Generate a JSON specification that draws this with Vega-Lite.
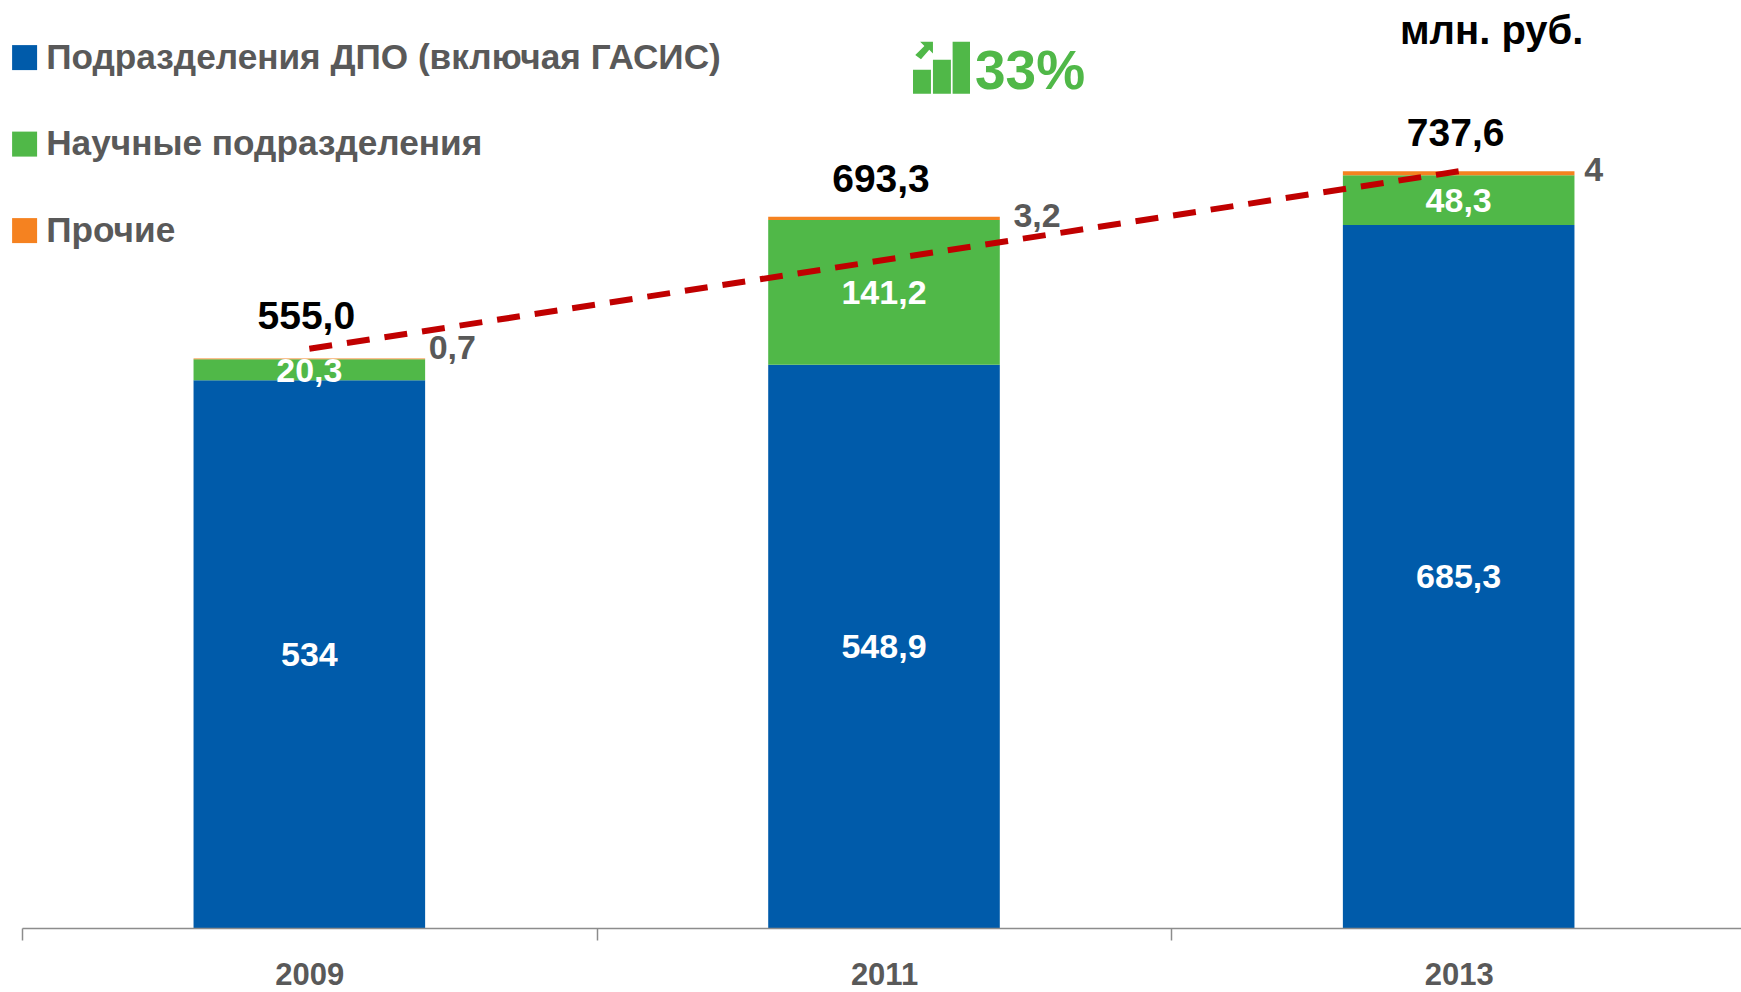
{
"$schema":"https://vega.github.io/schema/vega-lite/v6.json",
"width":1719,"height":928,
"autosize":{"type":"none"},
"padding":{"left":22,"top":0,"right":0,"bottom":64},
"background":"white",
"config":{"view":{"stroke":null},"text":{"font":"Liberation Sans","fontWeight":"bold"}},
"data":{"values":[
{"year":"2009","series":"Подразделения ДПО (включая ГАСИС)","rank":1,"value":534,"label":"534"},
{"year":"2009","series":"Научные подразделения","rank":2,"value":20.3,"label":"20,3"},
{"year":"2009","series":"Прочие","rank":3,"value":0.7,"label":"0,7"},
{"year":"2011","series":"Подразделения ДПО (включая ГАСИС)","rank":1,"value":548.9,"label":"548,9"},
{"year":"2011","series":"Научные подразделения","rank":2,"value":141.2,"label":"141,2"},
{"year":"2011","series":"Прочие","rank":3,"value":3.2,"label":"3,2"},
{"year":"2013","series":"Подразделения ДПО (включая ГАСИС)","rank":1,"value":685.3,"label":"685,3"},
{"year":"2013","series":"Научные подразделения","rank":2,"value":48.3,"label":"48,3"},
{"year":"2013","series":"Прочие","rank":3,"value":4,"label":"4"}
]},
"encoding":{
"x":{"field":"year","type":"nominal","sort":null,
"scale":{"domain":["2009","2011","2013"],"range":[0,1724],"paddingInner":0,"paddingOuter":0},
"axis":{"title":null,"labelAngle":0,"labelFont":"Liberation Sans","labelFontWeight":"bold","labelFontSize":31,"labelColor":"#595959","labelPadding":20,"tickBand":"extent","tickSize":12,"tickColor":"#8c8c8c","tickWidth":1.5,"domainColor":"#8c8c8c","domainWidth":1.5,"grid":false,"zindex":1}}
},
"layer":[
{"mark":{"type":"bar","width":{"band":0.403}},
"encoding":{
"y":{"field":"value","type":"quantitative","stack":"zero","scale":{"domain":[0,904.5],"nice":false,"zero":true},"axis":null},
"order":{"field":"rank","type":"ordinal"},
"color":{"field":"series","type":"nominal","sort":null,
"scale":{"domain":["Подразделения ДПО (включая ГАСИС)","Научные подразделения","Прочие"],"range":["#005BAA","#50B848","#F58220"]},
"legend":{"title":null,"orient":"none","legendX":-15,"legendY":40,"padding":0,"symbolType":"square","symbolSize":625,"symbolStrokeWidth":0,"labelFont":"Liberation Sans","labelFontWeight":"bold","labelFontSize":35.2,"labelColor":"#595959","labelLimit":1000,"labelOffset":4,"rowPadding":50.5}}
}},
{"transform":[
{"stack":"value","groupby":["year"],"sort":[{"field":"rank","order":"ascending"}],"as":["v0","v1"]},
{"calculate":"(datum.v0+datum.v1)/2","as":"mid"},
{"filter":"datum.rank<3"}],
"mark":{"type":"text","fontSize":34,"color":"white","baseline":"middle","dy":2},
"encoding":{"y":{"field":"mid","type":"quantitative"},"text":{"field":"label"}}},
{"transform":[
{"stack":"value","groupby":["year"],"sort":[{"field":"rank","order":"ascending"}],"as":["v0","v1"]},
{"filter":"datum.rank==3 && datum.year=='2009'"}],
"mark":{"type":"text","fontSize":34,"color":"#595959","baseline":"middle","dx":143,"dy":-10},
"encoding":{"y":{"field":"v1","type":"quantitative"},"text":{"field":"label"}}},
{"transform":[
{"stack":"value","groupby":["year"],"sort":[{"field":"rank","order":"ascending"}],"as":["v0","v1"]},
{"filter":"datum.rank==3 && datum.year=='2011'"}],
"mark":{"type":"text","fontSize":34,"color":"#595959","baseline":"middle","dx":153,"dy":0},
"encoding":{"y":{"field":"v1","type":"quantitative"},"text":{"field":"label"}}},
{"transform":[
{"stack":"value","groupby":["year"],"sort":[{"field":"rank","order":"ascending"}],"as":["v0","v1"]},
{"filter":"datum.rank==3 && datum.year=='2013'"}],
"mark":{"type":"text","fontSize":34,"color":"#595959","baseline":"middle","dx":135,"dy":0},
"encoding":{"y":{"field":"v1","type":"quantitative"},"text":{"field":"label"}}},
{"data":{"values":[{"year":"2009","total":555.0,"label":"555,0"}]},
"mark":{"type":"text","fontSize":39,"color":"black","baseline":"middle","dx":-3,"dy":-42},
"encoding":{"y":{"field":"total","type":"quantitative"},"text":{"field":"label"}}},
{"data":{"values":[{"year":"2011","total":693.3,"label":"693,3"},{"year":"2013","total":737.6,"label":"737,6"}]},
"mark":{"type":"text","fontSize":39,"color":"black","baseline":"middle","dx":-3,"dy":-37},
"encoding":{"y":{"field":"total","type":"quantitative"},"text":{"field":"label"}}},
{"data":{"values":[{"year":"2009","trend":564.5},{"year":"2013","trend":737.5}]},
"mark":{"type":"line","color":"#C00000","strokeWidth":6,"strokeDash":[23,15]},
"encoding":{"y":{"field":"trend","type":"quantitative"}}},
{"data":{"values":[{"note":"млн. руб."}]},
"mark":{"type":"text","fontSize":40,"color":"black","baseline":"middle","dx":33},
"encoding":{"x":{"datum":"2013"},"y":{"datum":873},"text":{"field":"note"}}},
{"data":{"values":[{"note":"33%"}]},
"mark":{"type":"text","fontSize":55,"color":"#50B848","baseline":"middle","dx":146},
"encoding":{"x":{"datum":"2011"},"y":{"datum":834},"text":{"field":"note"}}},
{"data":{"values":[{"note":"icon"}]},
"mark":{"type":"point","filled":true,"opacity":1,"color":"#50B848","xOffset":57.5,"size":3249,
"shape":"M-1 0.07H-0.37V0.91H-1ZM-0.30 -0.28H0.33V0.91H-0.30ZM0.39 -0.91H1V0.91H0.39ZM-0.75 -0.91H-0.3V-0.5L-0.43 -0.63L-0.72 -0.3L-0.92 -0.45L-0.6 -0.76Z"},
"encoding":{"x":{"datum":"2011"},"y":{"datum":838.5}}}
]
}
